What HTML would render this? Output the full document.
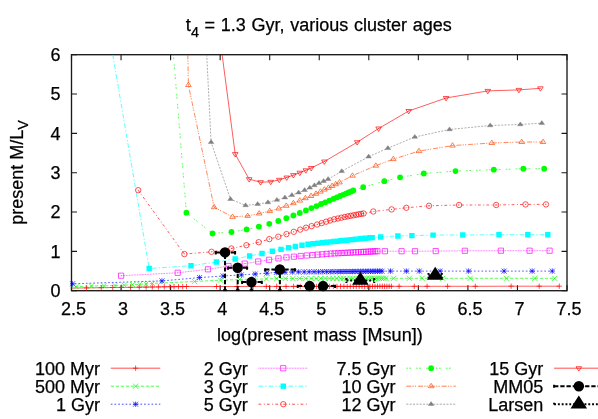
<!DOCTYPE html>
<html><head><meta charset="utf-8"><title>plot</title>
<style>html,body{margin:0;padding:0;background:#fff;}body{width:598px;height:419px;overflow:hidden;font-family:"Liberation Sans",sans-serif;}</style>
</head><body>
<svg width="598" height="419" viewBox="0 0 598 419" style="display:block;will-change:transform;font-family:'Liberation Sans',sans-serif">
<rect width="598" height="419" fill="#fff"/>
<clipPath id="cp"><rect x="71.5" y="54.7" width="495.5" height="236.0"/></clipPath>
<g stroke="#1a1a1a" stroke-width="1.35" fill="none">
<rect x="71.5" y="54.7" width="495.5" height="236.0"/>
<path stroke-width="1.1" d="M71.50 290.7v-5.5M71.50 54.7v5.5M121.05 290.7v-5.5M121.05 54.7v5.5M170.60 290.7v-5.5M170.60 54.7v5.5M220.15 290.7v-5.5M220.15 54.7v5.5M269.70 290.7v-5.5M269.70 54.7v5.5M319.25 290.7v-5.5M319.25 54.7v5.5M368.80 290.7v-5.5M368.80 54.7v5.5M418.35 290.7v-5.5M418.35 54.7v5.5M467.90 290.7v-5.5M467.90 54.7v5.5M517.45 290.7v-5.5M517.45 54.7v5.5M567.00 290.7v-5.5M567.00 54.7v5.5M71.5 290.70h5.5M567.0 290.70h-5.5M71.5 251.37h5.5M567.0 251.37h-5.5M71.5 212.03h5.5M567.0 212.03h-5.5M71.5 172.70h5.5M567.0 172.70h-5.5M71.5 133.37h5.5M567.0 133.37h-5.5M71.5 94.03h5.5M567.0 94.03h-5.5M71.5 54.70h5.5M567.0 54.70h-5.5"/>
</g>
<g font-size="18" fill="#000" stroke="#000" stroke-width="0.25">
<text x="73.5" y="315.3" text-anchor="middle">2.5</text>
<text x="123.0" y="315.3" text-anchor="middle">3</text>
<text x="172.6" y="315.3" text-anchor="middle">3.5</text>
<text x="222.2" y="315.3" text-anchor="middle">4</text>
<text x="271.7" y="315.3" text-anchor="middle">4.5</text>
<text x="321.2" y="315.3" text-anchor="middle">5</text>
<text x="370.8" y="315.3" text-anchor="middle">5.5</text>
<text x="420.4" y="315.3" text-anchor="middle">6</text>
<text x="469.9" y="315.3" text-anchor="middle">6.5</text>
<text x="519.5" y="315.3" text-anchor="middle">7</text>
<text x="569.0" y="315.3" text-anchor="middle">7.5</text>
<text x="60.5" y="297.0" text-anchor="end">0</text>
<text x="60.5" y="257.7" text-anchor="end">1</text>
<text x="60.5" y="218.3" text-anchor="end">2</text>
<text x="60.5" y="179.0" text-anchor="end">3</text>
<text x="60.5" y="139.7" text-anchor="end">4</text>
<text x="60.5" y="100.3" text-anchor="end">5</text>
<text x="60.5" y="61.0" text-anchor="end">6</text>
<text x="318.8" y="31.3" text-anchor="middle" word-spacing="0.7">t<tspan font-size="14.4" dy="5.2">4</tspan><tspan dy="-5.2"> = 1.3 Gyr, various cluster ages</tspan></text>
<text x="319.9" y="340.8" text-anchor="middle" word-spacing="0.7" letter-spacing="0.06">log(present mass [Msun])</text>
<text transform="translate(22.7,172.5) rotate(-90)" text-anchor="middle">present M/L<tspan font-size="14.4" dy="5.2">V</tspan></text>
</g>
<g clip-path="url(#cp)">
<path d="M60.0 288.2 L86.5 287.9 L101.3 287.7 L112.7 287.5 L121.4 287.4 L130.5 287.3 L139.3 287.2 L146.1 287.1 L152.3 287.0 L158.4 286.9 L164.3 286.8 L169.9 286.7 L174.0 286.7 L178.5 286.6 L182.7 286.6 L186.5 286.5 L216.5 286.5 L237.1 286.5 L253.2 286.4 L266.3 286.4 L276.7 286.4 L286.0 286.4 L293.6 286.4 L300.2 286.4 L306.1 286.4 L311.4 286.4 L316.4 286.4 L321.0 286.4 L325.4 286.4 L329.4 286.4 L333.3 286.4 L337.0 286.4 L340.5 286.4 L343.9 286.4 L347.2 286.4 L350.3 286.4 L353.4 286.4 L356.3 286.4 L359.2 286.4 L362.0 286.4 L364.7 286.4 L367.4 286.4 L370.0 286.4 L372.5 286.4 L375.0 286.3 L377.5 286.3 L379.9 286.3 L382.3 286.3 L384.6 286.3 L386.9 286.3 L389.2 286.3 L391.4 286.3 L399.1 286.3 L414.3 286.3 L427.1 286.3 L447.6 286.3 L475.3 286.3 L511.1 286.2 L539.2 286.2 L559.3 286.2" fill="none" stroke="#ff0000" stroke-width="1" stroke-opacity="0.64"/>
<path d="M60.0 286.4 L76.0 286.7 L91.4 286.0 L104.0 285.8 L115.0 285.5 L124.2 285.2 L132.6 284.7 L139.7 284.3 L146.0 283.8 L152.5 283.4 L194.6 281.5 L220.5 280.2 L239.6 279.5 L254.0 279.2 L266.3 278.9 L276.7 278.6 L285.3 278.5 L293.0 278.5 L299.7 278.5 L305.7 278.5 L311.1 278.5 L316.1 278.5 L320.8 278.4 L325.1 278.4 L329.2 278.4 L333.1 278.4 L336.8 278.4 L340.3 278.4 L343.6 278.4 L346.9 278.4 L350.0 278.4 L353.0 278.4 L355.9 278.4 L358.8 278.4 L361.5 278.4 L364.2 278.3 L366.8 278.3 L369.4 278.3 L371.9 278.3 L374.4 278.3 L376.8 278.3 L379.1 278.3 L381.5 278.3 L383.7 278.3 L386.0 278.3 L393.7 278.3 L409.4 278.3 L422.1 278.3 L442.7 278.3 L470.2 278.3 L506.5 278.3 L534.8 278.3 L554.7 278.3" fill="none" stroke="#00ff00" stroke-width="1" stroke-opacity="0.64" stroke-dasharray="3.3 1.7"/>
<path d="M60.0 283.9 L72.6 283.8 L162.0 280.9 L199.5 277.6 L223.1 276.0 L241.3 274.9 L255.2 274.0 L266.8 273.2 L276.3 272.5 L285.0 272.2 L292.4 272.0 L298.6 271.9 L304.2 271.9 L309.3 271.8 L314.1 271.8 L318.5 271.8 L322.7 271.7 L326.6 271.7 L330.3 271.7 L333.9 271.6 L337.3 271.6 L340.5 271.6 L343.7 271.5 L346.7 271.5 L349.7 271.5 L352.5 271.5 L355.3 271.4 L358.0 271.4 L360.6 271.4 L363.2 271.4 L365.7 271.3 L368.1 271.3 L370.6 271.3 L372.9 271.3 L375.2 271.3 L377.5 271.2 L379.8 271.2 L382.0 271.2 L390.5 271.1 L406.4 271.1 L419.3 271.1 L440.1 271.1 L468.6 271.1 L504.1 271.1 L532.2 271.1 L552.3 271.1" fill="none" stroke="#0000ff" stroke-width="1" stroke-opacity="0.64" stroke-dasharray="1.7 2"/>
<path d="M121.1 275.7 L177.7 272.8 L208.0 269.3 L228.5 266.0 L244.7 263.6 L258.2 261.5 L269.0 259.8 L278.5 258.4 L286.5 257.4 L293.9 256.7 L300.7 256.0 L306.8 255.5 L312.5 255.1 L317.6 254.7 L322.3 254.3 L326.6 253.9 L330.7 253.6 L334.6 253.4 L338.2 253.2 L341.4 253.0 L344.5 252.9 L347.5 252.7 L350.4 252.6 L353.2 252.4 L355.9 252.3 L358.5 252.2 L361.1 252.0 L363.5 251.9 L366.0 251.8 L368.4 251.7 L370.7 251.5 L373.0 251.4 L375.2 251.3 L377.4 251.2 L384.9 251.2 L401.6 251.2 L415.0 251.2 L435.7 251.1 L464.8 250.8 L500.9 250.7 L529.6 250.7 L549.6 250.7" fill="none" stroke="#ff00ff" stroke-width="1" stroke-opacity="0.64" stroke-dasharray="0.8 0.8"/>
<path d="M112.7 54.5 L149.2 268.5 L191.0 265.7 L216.4 262.0 L235.2 259.0 L249.6 256.0 L262.0 253.5 L272.3 251.3 L281.0 249.4 L288.6 247.8 L295.4 246.5 L302.0 245.3 L308.0 244.3 L313.2 243.7 L318.0 243.2 L322.4 242.8 L326.5 242.3 L330.4 241.9 L334.0 241.5 L337.5 241.2 L340.8 240.8 L343.9 240.5 L346.9 240.2 L349.8 239.9 L352.6 239.6 L355.3 239.3 L357.9 239.1 L360.5 238.8 L362.9 238.5 L365.3 238.3 L367.7 238.1 L370.0 237.8 L372.2 237.6 L380.7 237.0 L397.9 236.0 L411.9 235.6 L433.1 235.1 L462.8 235.0 L499.0 234.7 L527.8 234.7 L547.8 234.7" fill="none" stroke="#00ffff" stroke-width="1" stroke-opacity="0.64" stroke-dasharray="4.7 2 1.3 2"/>
<path d="M138.2 190.2 L184.4 254.1 L211.5 251.8 L231.4 248.5 L246.4 245.2 L258.7 242.2 L269.3 239.1 L278.3 236.7 L286.5 234.1 L293.8 231.8 L300.2 229.6 L306.0 227.7 L311.6 226.1 L317.1 224.5 L321.7 223.1 L326.1 221.7 L330.1 220.5 L334.1 219.3 L337.9 218.5 L341.4 217.7 L344.7 217.0 L347.8 216.4 L350.7 215.8 L353.5 215.3 L356.2 214.8 L358.7 214.3 L361.2 213.9 L363.5 213.5 L373.3 211.5 L391.6 209.4 L406.3 207.8 L429.0 205.8 L459.1 205.0 L496.2 205.0 L525.5 204.4 L546.0 204.4" fill="none" stroke="#ff0000" stroke-width="1" stroke-opacity="0.64" stroke-dasharray="2.8 2.5 1 2.1"/>
<path d="M173.4 54.5 L186.4 212.7 L212.5 233.5 L231.5 232.0 L246.6 229.4 L258.8 226.6 L269.3 223.8 L278.3 221.0 L286.3 218.2 L293.4 215.5 L299.8 213.0 L305.9 210.4 L311.4 208.1 L316.5 206.1 L321.1 204.0 L325.2 202.3 L329.3 200.6 L333.3 198.9 L336.9 197.4 L340.1 196.0 L343.1 194.8 L345.9 193.6 L348.6 192.5 L351.1 191.4 L353.3 190.5 L363.2 187.2 L384.3 181.2 L400.1 177.3 L423.8 173.5 L455.5 171.1 L493.8 169.7 L523.3 168.7 L544.2 168.7" fill="none" stroke="#00ff00" stroke-width="1" stroke-opacity="0.64" stroke-dasharray="1.6 1.3 1.9 5.1"/>
<path d="M187.8 54.5 L188.4 85.0 L214.1 207.2 L232.5 216.9 L247.6 215.9 L259.2 213.5 L269.7 211.1 L278.7 208.5 L286.3 205.8 L293.4 203.2 L299.8 200.6 L305.4 198.2 L311.0 196.0 L316.0 193.8 L320.4 191.6 L324.4 189.6 L328.5 187.8 L332.1 186.0 L335.7 184.2 L339.5 182.4 L352.5 175.7 L375.8 165.7 L393.3 159.1 L419.0 151.1 L452.5 145.6 L491.8 143.0 L521.7 142.0 L543.0 142.0" fill="none" stroke="#ff4500" stroke-width="1" stroke-opacity="0.64" stroke-dasharray="5 1.2 1.2 1.2 1.2 2"/>
<path d="M206.7 54.5 L211.1 142.2 L230.5 199.2 L245.6 205.4 L257.6 204.2 L267.9 202.4 L276.9 200.0 L284.9 197.6 L291.9 195.2 L298.6 192.6 L304.6 190.2 L309.8 187.8 L314.4 185.4 L319.0 183.2 L323.6 181.2 L328.1 179.2 L341.7 171.3 L368.6 156.7 L387.9 148.2 L414.8 137.0 L449.5 129.5 L490.2 125.5 L520.3 124.5 L541.8 123.2" fill="none" stroke="#808080" stroke-width="1" stroke-opacity="0.64" stroke-dasharray="2 1.35"/>
<path d="M222.1 54.5 L235.2 154.1 L249.2 179.2 L260.6 182.2 L270.7 181.8 L279.3 179.8 L286.7 177.5 L293.4 175.1 L299.8 172.7 L305.8 170.3 L311.2 168.0 L324.4 161.5 L357.2 142.2 L378.6 128.5 L408.7 111.0 L446.1 98.0 L487.8 90.9 L518.9 89.9 L540.4 88.3" fill="none" stroke="#ff0000" stroke-width="1" stroke-opacity="0.64"/>
</g>
<path fill="none" stroke="#ff0000" stroke-width="1" stroke-opacity="0.68" d="M83.8 287.9h5.4M86.5 285.2v5.4M98.6 287.7h5.4M101.3 285v5.4M110 287.5h5.4M112.7 284.8v5.4M118.7 287.4h5.4M121.4 284.7v5.4M127.8 287.3h5.4M130.5 284.6v5.4M136.6 287.2h5.4M139.3 284.5v5.4M143.4 287.1h5.4M146.1 284.4v5.4M149.6 287h5.4M152.3 284.3v5.4M155.7 286.9h5.4M158.4 284.2v5.4M161.6 286.8h5.4M164.3 284.1v5.4M167.2 286.7h5.4M169.9 284v5.4M171.3 286.7h5.4M174 284v5.4M175.8 286.6h5.4M178.5 283.9v5.4M180 286.6h5.4M182.7 283.9v5.4M183.8 286.5h5.4M186.5 283.8v5.4M213.8 286.5h5.4M216.5 283.8v5.4M234.4 286.5h5.4M237.1 283.8v5.4M250.5 286.4h5.4M253.2 283.7v5.4M263.6 286.4h5.4M266.3 283.7v5.4M274 286.4h5.4M276.7 283.7v5.4M283.3 286.4h5.4M286 283.7v5.4M290.9 286.4h5.4M293.6 283.7v5.4M297.5 286.4h5.4M300.2 283.7v5.4M303.4 286.4h5.4M306.1 283.7v5.4M308.7 286.4h5.4M311.4 283.7v5.4M313.7 286.4h5.4M316.4 283.7v5.4M318.3 286.4h5.4M321 283.7v5.4M322.7 286.4h5.4M325.4 283.7v5.4M326.7 286.4h5.4M329.4 283.7v5.4M330.6 286.4h5.4M333.3 283.7v5.4M334.3 286.4h5.4M337 283.7v5.4M337.8 286.4h5.4M340.5 283.7v5.4M341.2 286.4h5.4M343.9 283.7v5.4M344.5 286.4h5.4M347.2 283.7v5.4M347.6 286.4h5.4M350.3 283.7v5.4M350.7 286.4h5.4M353.4 283.7v5.4M353.6 286.4h5.4M356.3 283.7v5.4M356.5 286.4h5.4M359.2 283.7v5.4M359.3 286.4h5.4M362 283.7v5.4M362 286.4h5.4M364.7 283.7v5.4M364.7 286.4h5.4M367.4 283.7v5.4M367.3 286.4h5.4M370 283.7v5.4M369.8 286.4h5.4M372.5 283.7v5.4M372.3 286.3h5.4M375 283.6v5.4M374.8 286.3h5.4M377.5 283.6v5.4M377.2 286.3h5.4M379.9 283.6v5.4M379.6 286.3h5.4M382.3 283.6v5.4M381.9 286.3h5.4M384.6 283.6v5.4M384.2 286.3h5.4M386.9 283.6v5.4M386.5 286.3h5.4M389.2 283.6v5.4M388.7 286.3h5.4M391.4 283.6v5.4M396.4 286.3h5.4M399.1 283.6v5.4M411.6 286.3h5.4M414.3 283.6v5.4M424.4 286.3h5.4M427.1 283.6v5.4M444.9 286.3h5.4M447.6 283.6v5.4M472.6 286.3h5.4M475.3 283.6v5.4M508.4 286.2h5.4M511.1 283.5v5.4M536.5 286.2h5.4M539.2 283.5v5.4M556.6 286.2h5.4M559.3 283.5v5.4"/>
<path fill="none" stroke="#00ff00" stroke-width="1" stroke-opacity="0.68" d="M73.4 284.1l5.2 5.2M73.4 289.3l5.2 -5.2M88.8 283.4l5.2 5.2M88.8 288.6l5.2 -5.2M101.4 283.2l5.2 5.2M101.4 288.4l5.2 -5.2M112.4 282.9l5.2 5.2M112.4 288.1l5.2 -5.2M121.6 282.6l5.2 5.2M121.6 287.8l5.2 -5.2M130 282.1l5.2 5.2M130 287.3l5.2 -5.2M137.1 281.7l5.2 5.2M137.1 286.9l5.2 -5.2M143.4 281.2l5.2 5.2M143.4 286.4l5.2 -5.2M149.9 280.8l5.2 5.2M149.9 286l5.2 -5.2M192 278.9l5.2 5.2M192 284.1l5.2 -5.2M217.9 277.6l5.2 5.2M217.9 282.8l5.2 -5.2M237 276.9l5.2 5.2M237 282.1l5.2 -5.2M251.4 276.6l5.2 5.2M251.4 281.8l5.2 -5.2M263.7 276.3l5.2 5.2M263.7 281.5l5.2 -5.2M274.1 276l5.2 5.2M274.1 281.2l5.2 -5.2M282.7 275.9l5.2 5.2M282.7 281.1l5.2 -5.2M290.4 275.9l5.2 5.2M290.4 281.1l5.2 -5.2M297.1 275.9l5.2 5.2M297.1 281.1l5.2 -5.2M303.1 275.9l5.2 5.2M303.1 281.1l5.2 -5.2M308.5 275.9l5.2 5.2M308.5 281.1l5.2 -5.2M313.5 275.9l5.2 5.2M313.5 281.1l5.2 -5.2M318.2 275.8l5.2 5.2M318.2 281l5.2 -5.2M322.5 275.8l5.2 5.2M322.5 281l5.2 -5.2M326.6 275.8l5.2 5.2M326.6 281l5.2 -5.2M330.5 275.8l5.2 5.2M330.5 281l5.2 -5.2M334.2 275.8l5.2 5.2M334.2 281l5.2 -5.2M337.7 275.8l5.2 5.2M337.7 281l5.2 -5.2M341 275.8l5.2 5.2M341 281l5.2 -5.2M344.3 275.8l5.2 5.2M344.3 281l5.2 -5.2M347.4 275.8l5.2 5.2M347.4 281l5.2 -5.2M350.4 275.8l5.2 5.2M350.4 281l5.2 -5.2M353.3 275.8l5.2 5.2M353.3 281l5.2 -5.2M356.2 275.8l5.2 5.2M356.2 281l5.2 -5.2M358.9 275.8l5.2 5.2M358.9 281l5.2 -5.2M361.6 275.7l5.2 5.2M361.6 280.9l5.2 -5.2M364.2 275.7l5.2 5.2M364.2 280.9l5.2 -5.2M366.8 275.7l5.2 5.2M366.8 280.9l5.2 -5.2M369.3 275.7l5.2 5.2M369.3 280.9l5.2 -5.2M371.8 275.7l5.2 5.2M371.8 280.9l5.2 -5.2M374.2 275.7l5.2 5.2M374.2 280.9l5.2 -5.2M376.5 275.7l5.2 5.2M376.5 280.9l5.2 -5.2M378.9 275.7l5.2 5.2M378.9 280.9l5.2 -5.2M381.1 275.7l5.2 5.2M381.1 280.9l5.2 -5.2M383.4 275.7l5.2 5.2M383.4 280.9l5.2 -5.2M391.1 275.7l5.2 5.2M391.1 280.9l5.2 -5.2M406.8 275.7l5.2 5.2M406.8 280.9l5.2 -5.2M419.5 275.7l5.2 5.2M419.5 280.9l5.2 -5.2M440.1 275.7l5.2 5.2M440.1 280.9l5.2 -5.2M467.6 275.7l5.2 5.2M467.6 280.9l5.2 -5.2M503.9 275.7l5.2 5.2M503.9 280.9l5.2 -5.2M532.2 275.7l5.2 5.2M532.2 280.9l5.2 -5.2M552.1 275.7l5.2 5.2M552.1 280.9l5.2 -5.2"/>
<path fill="none" stroke="#0000ff" stroke-width="1" stroke-opacity="0.68" d="M69.9 283.8h5.4M72.6 281.1v5.4M70.1 281.3l5 5M70.1 286.3l5 -5M159.3 280.9h5.4M162 278.2v5.4M159.5 278.4l5 5M159.5 283.4l5 -5M196.8 277.6h5.4M199.5 274.9v5.4M197 275.1l5 5M197 280.1l5 -5M220.4 276h5.4M223.1 273.3v5.4M220.6 273.5l5 5M220.6 278.5l5 -5M238.6 274.9h5.4M241.3 272.2v5.4M238.8 272.4l5 5M238.8 277.4l5 -5M252.5 274h5.4M255.2 271.3v5.4M252.7 271.5l5 5M252.7 276.5l5 -5M264.1 273.2h5.4M266.8 270.5v5.4M264.3 270.7l5 5M264.3 275.7l5 -5M273.6 272.5h5.4M276.3 269.8v5.4M273.8 270l5 5M273.8 275l5 -5M282.3 272.2h5.4M285 269.5v5.4M282.5 269.7l5 5M282.5 274.7l5 -5M289.7 272h5.4M292.4 269.3v5.4M289.9 269.5l5 5M289.9 274.5l5 -5M295.9 271.9h5.4M298.6 269.2v5.4M296.1 269.4l5 5M296.1 274.4l5 -5M301.5 271.9h5.4M304.2 269.2v5.4M301.7 269.4l5 5M301.7 274.4l5 -5M306.6 271.8h5.4M309.3 269.1v5.4M306.8 269.3l5 5M306.8 274.3l5 -5M311.4 271.8h5.4M314.1 269.1v5.4M311.6 269.3l5 5M311.6 274.3l5 -5M315.8 271.8h5.4M318.5 269.1v5.4M316 269.3l5 5M316 274.3l5 -5M320 271.7h5.4M322.7 269v5.4M320.2 269.2l5 5M320.2 274.2l5 -5M323.9 271.7h5.4M326.6 269v5.4M324.1 269.2l5 5M324.1 274.2l5 -5M327.6 271.7h5.4M330.3 269v5.4M327.8 269.2l5 5M327.8 274.2l5 -5M331.2 271.6h5.4M333.9 268.9v5.4M331.4 269.1l5 5M331.4 274.1l5 -5M334.6 271.6h5.4M337.3 268.9v5.4M334.8 269.1l5 5M334.8 274.1l5 -5M337.8 271.6h5.4M340.5 268.9v5.4M338 269.1l5 5M338 274.1l5 -5M341 271.5h5.4M343.7 268.8v5.4M341.2 269l5 5M341.2 274l5 -5M344 271.5h5.4M346.7 268.8v5.4M344.2 269l5 5M344.2 274l5 -5M347 271.5h5.4M349.7 268.8v5.4M347.2 269l5 5M347.2 274l5 -5M349.8 271.5h5.4M352.5 268.8v5.4M350 269l5 5M350 274l5 -5M352.6 271.4h5.4M355.3 268.7v5.4M352.8 268.9l5 5M352.8 273.9l5 -5M355.3 271.4h5.4M358 268.7v5.4M355.5 268.9l5 5M355.5 273.9l5 -5M357.9 271.4h5.4M360.6 268.7v5.4M358.1 268.9l5 5M358.1 273.9l5 -5M360.5 271.4h5.4M363.2 268.7v5.4M360.7 268.9l5 5M360.7 273.9l5 -5M363 271.3h5.4M365.7 268.6v5.4M363.2 268.8l5 5M363.2 273.8l5 -5M365.4 271.3h5.4M368.1 268.6v5.4M365.6 268.8l5 5M365.6 273.8l5 -5M367.9 271.3h5.4M370.6 268.6v5.4M368.1 268.8l5 5M368.1 273.8l5 -5M370.2 271.3h5.4M372.9 268.6v5.4M370.4 268.8l5 5M370.4 273.8l5 -5M372.5 271.3h5.4M375.2 268.6v5.4M372.7 268.8l5 5M372.7 273.8l5 -5M374.8 271.2h5.4M377.5 268.5v5.4M375 268.7l5 5M375 273.7l5 -5M377.1 271.2h5.4M379.8 268.5v5.4M377.3 268.7l5 5M377.3 273.7l5 -5M379.3 271.2h5.4M382 268.5v5.4M379.5 268.7l5 5M379.5 273.7l5 -5M387.8 271.1h5.4M390.5 268.4v5.4M388 268.6l5 5M388 273.6l5 -5M403.7 271.1h5.4M406.4 268.4v5.4M403.9 268.6l5 5M403.9 273.6l5 -5M416.6 271.1h5.4M419.3 268.4v5.4M416.8 268.6l5 5M416.8 273.6l5 -5M437.4 271.1h5.4M440.1 268.4v5.4M437.6 268.6l5 5M437.6 273.6l5 -5M465.9 271.1h5.4M468.6 268.4v5.4M466.1 268.6l5 5M466.1 273.6l5 -5M501.4 271.1h5.4M504.1 268.4v5.4M501.6 268.6l5 5M501.6 273.6l5 -5M529.5 271.1h5.4M532.2 268.4v5.4M529.7 268.6l5 5M529.7 273.6l5 -5M549.6 271.1h5.4M552.3 268.4v5.4M549.8 268.6l5 5M549.8 273.6l5 -5"/>
<path fill="none" stroke="#ff00ff" stroke-width="1" stroke-opacity="0.68" d="M118.5 273.1h5.2v5.2h-5.2zM175.1 270.2h5.2v5.2h-5.2zM205.4 266.7h5.2v5.2h-5.2zM225.9 263.4h5.2v5.2h-5.2zM242.1 261h5.2v5.2h-5.2zM255.6 258.9h5.2v5.2h-5.2zM266.4 257.2h5.2v5.2h-5.2zM275.9 255.8h5.2v5.2h-5.2zM283.9 254.8h5.2v5.2h-5.2zM291.3 254.1h5.2v5.2h-5.2zM298.1 253.4h5.2v5.2h-5.2zM304.2 252.9h5.2v5.2h-5.2zM309.9 252.5h5.2v5.2h-5.2zM315 252.1h5.2v5.2h-5.2zM319.7 251.7h5.2v5.2h-5.2zM324 251.3h5.2v5.2h-5.2zM328.1 251h5.2v5.2h-5.2zM332 250.8h5.2v5.2h-5.2zM335.6 250.6h5.2v5.2h-5.2zM338.8 250.4h5.2v5.2h-5.2zM341.9 250.3h5.2v5.2h-5.2zM344.9 250.1h5.2v5.2h-5.2zM347.8 250h5.2v5.2h-5.2zM350.6 249.8h5.2v5.2h-5.2zM353.3 249.7h5.2v5.2h-5.2zM355.9 249.6h5.2v5.2h-5.2zM358.5 249.4h5.2v5.2h-5.2zM360.9 249.3h5.2v5.2h-5.2zM363.4 249.2h5.2v5.2h-5.2zM365.8 249.1h5.2v5.2h-5.2zM368.1 248.9h5.2v5.2h-5.2zM370.4 248.8h5.2v5.2h-5.2zM372.6 248.7h5.2v5.2h-5.2zM374.8 248.6h5.2v5.2h-5.2zM382.3 248.6h5.2v5.2h-5.2zM399 248.6h5.2v5.2h-5.2zM412.4 248.6h5.2v5.2h-5.2zM433.1 248.5h5.2v5.2h-5.2zM462.2 248.2h5.2v5.2h-5.2zM498.3 248.1h5.2v5.2h-5.2zM527 248.1h5.2v5.2h-5.2zM547 248.1h5.2v5.2h-5.2z"/><path fill="#ff00ff" fill-opacity="0.5" stroke="none" d="M120.6 275.2h1v1h-1zM177.2 272.3h1v1h-1zM207.5 268.8h1v1h-1zM228 265.5h1v1h-1zM244.2 263.1h1v1h-1zM257.7 261h1v1h-1zM268.5 259.3h1v1h-1zM278 257.9h1v1h-1zM286 256.9h1v1h-1zM293.4 256.2h1v1h-1zM300.2 255.5h1v1h-1zM306.3 255h1v1h-1zM312 254.6h1v1h-1zM317.1 254.2h1v1h-1zM321.8 253.8h1v1h-1zM326.1 253.4h1v1h-1zM330.2 253.1h1v1h-1zM334.1 252.9h1v1h-1zM337.7 252.7h1v1h-1zM340.9 252.5h1v1h-1zM344 252.4h1v1h-1zM347 252.2h1v1h-1zM349.9 252.1h1v1h-1zM352.7 251.9h1v1h-1zM355.4 251.8h1v1h-1zM358 251.7h1v1h-1zM360.6 251.5h1v1h-1zM363 251.4h1v1h-1zM365.5 251.3h1v1h-1zM367.9 251.2h1v1h-1zM370.2 251h1v1h-1zM372.5 250.9h1v1h-1zM374.7 250.8h1v1h-1zM376.9 250.7h1v1h-1zM384.4 250.7h1v1h-1zM401.1 250.7h1v1h-1zM414.5 250.7h1v1h-1zM435.2 250.6h1v1h-1zM464.3 250.3h1v1h-1zM500.4 250.2h1v1h-1zM529.1 250.2h1v1h-1zM549.1 250.2h1v1h-1z"/>
<path fill="#00ffff" stroke="none" d="M146.5 265.8h5.4v5.4h-5.4zM188.3 263h5.4v5.4h-5.4zM213.7 259.3h5.4v5.4h-5.4zM232.5 256.3h5.4v5.4h-5.4zM246.9 253.3h5.4v5.4h-5.4zM259.3 250.8h5.4v5.4h-5.4zM269.6 248.6h5.4v5.4h-5.4zM278.3 246.7h5.4v5.4h-5.4zM285.9 245.1h5.4v5.4h-5.4zM292.7 243.8h5.4v5.4h-5.4zM299.3 242.6h5.4v5.4h-5.4zM305.3 241.6h5.4v5.4h-5.4zM310.5 241h5.4v5.4h-5.4zM315.3 240.5h5.4v5.4h-5.4zM319.7 240.1h5.4v5.4h-5.4zM323.8 239.6h5.4v5.4h-5.4zM327.7 239.2h5.4v5.4h-5.4zM331.3 238.8h5.4v5.4h-5.4zM334.8 238.5h5.4v5.4h-5.4zM338.1 238.1h5.4v5.4h-5.4zM341.2 237.8h5.4v5.4h-5.4zM344.2 237.5h5.4v5.4h-5.4zM347.1 237.2h5.4v5.4h-5.4zM349.9 236.9h5.4v5.4h-5.4zM352.6 236.6h5.4v5.4h-5.4zM355.2 236.4h5.4v5.4h-5.4zM357.8 236.1h5.4v5.4h-5.4zM360.2 235.8h5.4v5.4h-5.4zM362.6 235.6h5.4v5.4h-5.4zM365 235.4h5.4v5.4h-5.4zM367.3 235.1h5.4v5.4h-5.4zM369.5 234.9h5.4v5.4h-5.4zM378 234.3h5.4v5.4h-5.4zM395.2 233.3h5.4v5.4h-5.4zM409.2 232.9h5.4v5.4h-5.4zM430.4 232.4h5.4v5.4h-5.4zM460.1 232.3h5.4v5.4h-5.4zM496.3 232h5.4v5.4h-5.4zM525.1 232h5.4v5.4h-5.4zM545.1 232h5.4v5.4h-5.4z"/>
<path fill="none" stroke="#ff0000" stroke-width="1" stroke-opacity="0.68" d="M135.5 190.2a2.7 2.7 0 1 0 5.4 0a2.7 2.7 0 1 0 -5.4 0zM181.7 254.1a2.7 2.7 0 1 0 5.4 0a2.7 2.7 0 1 0 -5.4 0zM208.8 251.8a2.7 2.7 0 1 0 5.4 0a2.7 2.7 0 1 0 -5.4 0zM228.7 248.5a2.7 2.7 0 1 0 5.4 0a2.7 2.7 0 1 0 -5.4 0zM243.7 245.2a2.7 2.7 0 1 0 5.4 0a2.7 2.7 0 1 0 -5.4 0zM256 242.2a2.7 2.7 0 1 0 5.4 0a2.7 2.7 0 1 0 -5.4 0zM266.6 239.1a2.7 2.7 0 1 0 5.4 0a2.7 2.7 0 1 0 -5.4 0zM275.6 236.7a2.7 2.7 0 1 0 5.4 0a2.7 2.7 0 1 0 -5.4 0zM283.8 234.1a2.7 2.7 0 1 0 5.4 0a2.7 2.7 0 1 0 -5.4 0zM291.1 231.8a2.7 2.7 0 1 0 5.4 0a2.7 2.7 0 1 0 -5.4 0zM297.5 229.6a2.7 2.7 0 1 0 5.4 0a2.7 2.7 0 1 0 -5.4 0zM303.3 227.7a2.7 2.7 0 1 0 5.4 0a2.7 2.7 0 1 0 -5.4 0zM308.9 226.1a2.7 2.7 0 1 0 5.4 0a2.7 2.7 0 1 0 -5.4 0zM314.4 224.5a2.7 2.7 0 1 0 5.4 0a2.7 2.7 0 1 0 -5.4 0zM319 223.1a2.7 2.7 0 1 0 5.4 0a2.7 2.7 0 1 0 -5.4 0zM323.4 221.7a2.7 2.7 0 1 0 5.4 0a2.7 2.7 0 1 0 -5.4 0zM327.4 220.5a2.7 2.7 0 1 0 5.4 0a2.7 2.7 0 1 0 -5.4 0zM331.4 219.3a2.7 2.7 0 1 0 5.4 0a2.7 2.7 0 1 0 -5.4 0zM335.2 218.5a2.7 2.7 0 1 0 5.4 0a2.7 2.7 0 1 0 -5.4 0zM338.7 217.7a2.7 2.7 0 1 0 5.4 0a2.7 2.7 0 1 0 -5.4 0zM342 217a2.7 2.7 0 1 0 5.4 0a2.7 2.7 0 1 0 -5.4 0zM345.1 216.4a2.7 2.7 0 1 0 5.4 0a2.7 2.7 0 1 0 -5.4 0zM348 215.8a2.7 2.7 0 1 0 5.4 0a2.7 2.7 0 1 0 -5.4 0zM350.8 215.3a2.7 2.7 0 1 0 5.4 0a2.7 2.7 0 1 0 -5.4 0zM353.5 214.8a2.7 2.7 0 1 0 5.4 0a2.7 2.7 0 1 0 -5.4 0zM356 214.3a2.7 2.7 0 1 0 5.4 0a2.7 2.7 0 1 0 -5.4 0zM358.5 213.9a2.7 2.7 0 1 0 5.4 0a2.7 2.7 0 1 0 -5.4 0zM360.8 213.5a2.7 2.7 0 1 0 5.4 0a2.7 2.7 0 1 0 -5.4 0zM370.6 211.5a2.7 2.7 0 1 0 5.4 0a2.7 2.7 0 1 0 -5.4 0zM388.9 209.4a2.7 2.7 0 1 0 5.4 0a2.7 2.7 0 1 0 -5.4 0zM403.6 207.8a2.7 2.7 0 1 0 5.4 0a2.7 2.7 0 1 0 -5.4 0zM426.3 205.8a2.7 2.7 0 1 0 5.4 0a2.7 2.7 0 1 0 -5.4 0zM456.4 205a2.7 2.7 0 1 0 5.4 0a2.7 2.7 0 1 0 -5.4 0zM493.5 205a2.7 2.7 0 1 0 5.4 0a2.7 2.7 0 1 0 -5.4 0zM522.8 204.4a2.7 2.7 0 1 0 5.4 0a2.7 2.7 0 1 0 -5.4 0zM543.3 204.4a2.7 2.7 0 1 0 5.4 0a2.7 2.7 0 1 0 -5.4 0z"/><path fill="#ff0000" fill-opacity="0.5" stroke="none" d="M137.7 189.7h1v1h-1zM183.9 253.6h1v1h-1zM211 251.3h1v1h-1zM230.9 248h1v1h-1zM245.9 244.7h1v1h-1zM258.2 241.7h1v1h-1zM268.8 238.6h1v1h-1zM277.8 236.2h1v1h-1zM286 233.6h1v1h-1zM293.3 231.3h1v1h-1zM299.7 229.1h1v1h-1zM305.5 227.2h1v1h-1zM311.1 225.6h1v1h-1zM316.6 224h1v1h-1zM321.2 222.6h1v1h-1zM325.6 221.2h1v1h-1zM329.6 220h1v1h-1zM333.6 218.8h1v1h-1zM337.4 218h1v1h-1zM340.9 217.2h1v1h-1zM344.2 216.5h1v1h-1zM347.3 215.9h1v1h-1zM350.2 215.3h1v1h-1zM353 214.8h1v1h-1zM355.7 214.3h1v1h-1zM358.2 213.8h1v1h-1zM360.7 213.4h1v1h-1zM363 213h1v1h-1zM372.8 211h1v1h-1zM391.1 208.9h1v1h-1zM405.8 207.3h1v1h-1zM428.5 205.3h1v1h-1zM458.6 204.5h1v1h-1zM495.7 204.5h1v1h-1zM525 203.9h1v1h-1zM545.5 203.9h1v1h-1z"/>
<path fill="#00ff00" stroke="none" d="M183.5 212.7a2.9 2.9 0 1 0 5.8 0a2.9 2.9 0 1 0 -5.8 0zM209.6 233.5a2.9 2.9 0 1 0 5.8 0a2.9 2.9 0 1 0 -5.8 0zM228.6 232a2.9 2.9 0 1 0 5.8 0a2.9 2.9 0 1 0 -5.8 0zM243.7 229.4a2.9 2.9 0 1 0 5.8 0a2.9 2.9 0 1 0 -5.8 0zM255.9 226.6a2.9 2.9 0 1 0 5.8 0a2.9 2.9 0 1 0 -5.8 0zM266.4 223.8a2.9 2.9 0 1 0 5.8 0a2.9 2.9 0 1 0 -5.8 0zM275.4 221a2.9 2.9 0 1 0 5.8 0a2.9 2.9 0 1 0 -5.8 0zM283.4 218.2a2.9 2.9 0 1 0 5.8 0a2.9 2.9 0 1 0 -5.8 0zM290.5 215.5a2.9 2.9 0 1 0 5.8 0a2.9 2.9 0 1 0 -5.8 0zM296.9 213a2.9 2.9 0 1 0 5.8 0a2.9 2.9 0 1 0 -5.8 0zM303 210.4a2.9 2.9 0 1 0 5.8 0a2.9 2.9 0 1 0 -5.8 0zM308.5 208.1a2.9 2.9 0 1 0 5.8 0a2.9 2.9 0 1 0 -5.8 0zM313.6 206.1a2.9 2.9 0 1 0 5.8 0a2.9 2.9 0 1 0 -5.8 0zM318.2 204a2.9 2.9 0 1 0 5.8 0a2.9 2.9 0 1 0 -5.8 0zM322.4 202.3a2.9 2.9 0 1 0 5.8 0a2.9 2.9 0 1 0 -5.8 0zM326.4 200.6a2.9 2.9 0 1 0 5.8 0a2.9 2.9 0 1 0 -5.8 0zM330.4 198.9a2.9 2.9 0 1 0 5.8 0a2.9 2.9 0 1 0 -5.8 0zM334 197.4a2.9 2.9 0 1 0 5.8 0a2.9 2.9 0 1 0 -5.8 0zM337.2 196a2.9 2.9 0 1 0 5.8 0a2.9 2.9 0 1 0 -5.8 0zM340.2 194.8a2.9 2.9 0 1 0 5.8 0a2.9 2.9 0 1 0 -5.8 0zM343 193.6a2.9 2.9 0 1 0 5.8 0a2.9 2.9 0 1 0 -5.8 0zM345.7 192.5a2.9 2.9 0 1 0 5.8 0a2.9 2.9 0 1 0 -5.8 0zM348.2 191.4a2.9 2.9 0 1 0 5.8 0a2.9 2.9 0 1 0 -5.8 0zM350.4 190.5a2.9 2.9 0 1 0 5.8 0a2.9 2.9 0 1 0 -5.8 0zM360.3 187.2a2.9 2.9 0 1 0 5.8 0a2.9 2.9 0 1 0 -5.8 0zM381.4 181.2a2.9 2.9 0 1 0 5.8 0a2.9 2.9 0 1 0 -5.8 0zM397.2 177.3a2.9 2.9 0 1 0 5.8 0a2.9 2.9 0 1 0 -5.8 0zM420.9 173.5a2.9 2.9 0 1 0 5.8 0a2.9 2.9 0 1 0 -5.8 0zM452.6 171.1a2.9 2.9 0 1 0 5.8 0a2.9 2.9 0 1 0 -5.8 0zM490.9 169.7a2.9 2.9 0 1 0 5.8 0a2.9 2.9 0 1 0 -5.8 0zM520.4 168.7a2.9 2.9 0 1 0 5.8 0a2.9 2.9 0 1 0 -5.8 0zM541.3 168.7a2.9 2.9 0 1 0 5.8 0a2.9 2.9 0 1 0 -5.8 0z"/>
<path fill="none" stroke="#ff4500" stroke-width="1" stroke-opacity="0.68" d="M188.4 82.1l2.8 4.4h-5.6zM214.1 204.3l2.8 4.4h-5.6zM232.5 214l2.8 4.4h-5.6zM247.6 213l2.8 4.4h-5.6zM259.2 210.6l2.8 4.4h-5.6zM269.7 208.2l2.8 4.4h-5.6zM278.7 205.6l2.8 4.4h-5.6zM286.3 202.9l2.8 4.4h-5.6zM293.4 200.3l2.8 4.4h-5.6zM299.8 197.7l2.8 4.4h-5.6zM305.4 195.3l2.8 4.4h-5.6zM311 193.1l2.8 4.4h-5.6zM316 190.9l2.8 4.4h-5.6zM320.4 188.7l2.8 4.4h-5.6zM324.4 186.7l2.8 4.4h-5.6zM328.5 184.9l2.8 4.4h-5.6zM332.1 183.1l2.8 4.4h-5.6zM335.7 181.3l2.8 4.4h-5.6zM339.5 179.5l2.8 4.4h-5.6zM352.5 172.8l2.8 4.4h-5.6zM375.8 162.8l2.8 4.4h-5.6zM393.3 156.2l2.8 4.4h-5.6zM419 148.2l2.8 4.4h-5.6zM452.5 142.7l2.8 4.4h-5.6zM491.8 140.1l2.8 4.4h-5.6zM521.7 139.1l2.8 4.4h-5.6zM543 139.1l2.8 4.4h-5.6z"/><path fill="#ff4500" fill-opacity="0.5" stroke="none" d="M187.9 84.5h1v1h-1zM213.6 206.7h1v1h-1zM232 216.4h1v1h-1zM247.1 215.4h1v1h-1zM258.7 213h1v1h-1zM269.2 210.6h1v1h-1zM278.2 208h1v1h-1zM285.8 205.3h1v1h-1zM292.9 202.7h1v1h-1zM299.3 200.1h1v1h-1zM304.9 197.7h1v1h-1zM310.5 195.5h1v1h-1zM315.5 193.3h1v1h-1zM319.9 191.1h1v1h-1zM323.9 189.1h1v1h-1zM328 187.3h1v1h-1zM331.6 185.5h1v1h-1zM335.2 183.7h1v1h-1zM339 181.9h1v1h-1zM352 175.2h1v1h-1zM375.3 165.2h1v1h-1zM392.8 158.6h1v1h-1zM418.5 150.6h1v1h-1zM452 145.1h1v1h-1zM491.3 142.5h1v1h-1zM521.2 141.5h1v1h-1zM542.5 141.5h1v1h-1z"/>
<path fill="#808080" stroke="#808080" stroke-width="0.6" stroke-opacity="0.68" d="M211.1 139.6l2.8 3.9h-5.6zM230.5 196.6l2.8 3.9h-5.6zM245.6 202.8l2.8 3.9h-5.6zM257.6 201.6l2.8 3.9h-5.6zM267.9 199.8l2.8 3.9h-5.6zM276.9 197.4l2.8 3.9h-5.6zM284.9 195l2.8 3.9h-5.6zM291.9 192.6l2.8 3.9h-5.6zM298.6 190l2.8 3.9h-5.6zM304.6 187.6l2.8 3.9h-5.6zM309.8 185.2l2.8 3.9h-5.6zM314.4 182.8l2.8 3.9h-5.6zM319 180.6l2.8 3.9h-5.6zM323.6 178.6l2.8 3.9h-5.6zM328.1 176.6l2.8 3.9h-5.6zM341.7 168.7l2.8 3.9h-5.6zM368.6 154.1l2.8 3.9h-5.6zM387.9 145.6l2.8 3.9h-5.6zM414.8 134.4l2.8 3.9h-5.6zM449.5 126.9l2.8 3.9h-5.6zM490.2 122.9l2.8 3.9h-5.6zM520.3 121.9l2.8 3.9h-5.6zM541.8 120.6l2.8 3.9h-5.6z"/>
<path fill="none" stroke="#ff0000" stroke-width="1" stroke-opacity="0.68" d="M235.2 157l2.8 -4.4h-5.6zM249.2 182.1l2.8 -4.4h-5.6zM260.6 185.1l2.8 -4.4h-5.6zM270.7 184.7l2.8 -4.4h-5.6zM279.3 182.7l2.8 -4.4h-5.6zM286.7 180.4l2.8 -4.4h-5.6zM293.4 178l2.8 -4.4h-5.6zM299.8 175.6l2.8 -4.4h-5.6zM305.8 173.2l2.8 -4.4h-5.6zM311.2 170.9l2.8 -4.4h-5.6zM324.4 164.4l2.8 -4.4h-5.6zM357.2 145.1l2.8 -4.4h-5.6zM378.6 131.4l2.8 -4.4h-5.6zM408.7 113.9l2.8 -4.4h-5.6zM446.1 100.9l2.8 -4.4h-5.6zM487.8 93.8l2.8 -4.4h-5.6zM518.9 92.8l2.8 -4.4h-5.6zM540.4 91.2l2.8 -4.4h-5.6z"/><path fill="#ff0000" fill-opacity="0.5" stroke="none" d="M234.7 153.6h1v1h-1zM248.7 178.7h1v1h-1zM260.1 181.7h1v1h-1zM270.2 181.3h1v1h-1zM278.8 179.3h1v1h-1zM286.2 177h1v1h-1zM292.9 174.6h1v1h-1zM299.3 172.2h1v1h-1zM305.3 169.8h1v1h-1zM310.7 167.5h1v1h-1zM323.9 161h1v1h-1zM356.7 141.7h1v1h-1zM378.1 128h1v1h-1zM408.2 110.5h1v1h-1zM445.6 97.5h1v1h-1zM487.3 90.4h1v1h-1zM518.4 89.4h1v1h-1zM539.9 87.8h1v1h-1z"/>
<g stroke="#000" stroke-width="2" fill="none">
<path stroke-dasharray="4.3 2.0" d="M215.7 252.4H225.4M235.1 252.4H225.4"/>
<path d="M215.7 251.1v3.3M235.1 251.1v3.3"/>
<path stroke-dasharray="4.2 2.1" d="M225.0 290.5V252.4"/>
<path d="M223.2 290.1h3.6"/>
<path stroke-dasharray="4.3 2.0" d="M228.0 267.7H237.6M247.1 267.7H237.6"/>
<path d="M228.0 266.4v3.3M247.1 266.4v3.3"/>
<path stroke-dasharray="4.2 2.1" d="M237.7 290.5V267.7"/>
<path d="M235.9 290.1h3.6"/>
<path stroke-dasharray="4.3 2.0" d="M242.1 282.1H251.9M261.8 282.1H251.9"/>
<path d="M242.1 280.8v3.3M261.8 280.8v3.3"/>
<path stroke-dasharray="4.2 2.1" d="M251.5 290.5V282.1"/>
<path d="M249.7 290.1h3.6"/>
<path stroke-dasharray="4.3 2.0" d="M265.1 269.5H280.1M295.0 269.5H280.1"/>
<path d="M265.1 268.2v3.3M295.0 268.2v3.3"/>
<path stroke-dasharray="4.2 2.1" d="M279.9 290.5V269.5"/>
<path d="M278.1 290.1h3.6"/>
<path stroke-dasharray="4.3 2.0" d="M297.7 286.1H316.4M335.1 286.1H316.4"/>
<path d="M297.7 284.8v3.3M335.1 284.8v3.3"/>
</g>
<path fill="#000" stroke="none" d="M219.8 252.4a5.25 5.25 0 1 0 10.5 0a5.25 5.25 0 1 0 -10.5 0zM232.4 267.7a5.25 5.25 0 1 0 10.5 0a5.25 5.25 0 1 0 -10.5 0zM246.2 282.1a5.25 5.25 0 1 0 10.5 0a5.25 5.25 0 1 0 -10.5 0zM274.6 269.5a5.25 5.25 0 1 0 10.5 0a5.25 5.25 0 1 0 -10.5 0zM304.4 286.1a5.25 5.25 0 1 0 10.5 0a5.25 5.25 0 1 0 -10.5 0zM317.8 286.1a5.25 5.25 0 1 0 10.5 0a5.25 5.25 0 1 0 -10.5 0z"/>
<g stroke="#000" stroke-width="2" fill="none" stroke-dasharray="1.9 1.9">
<path d="M346.4 280.5H374.2M346.4 278.0v5M374.2 278.0v5"/>
<path d="M428.5 275.4H441.8M428.5 272.9v5M441.8 272.9v5"/>
</g>
<path fill="#000" stroke="#000" stroke-width="1.6" d="M360.4 273.3l6.8 10.7h-13.6zM435.2 268.2l6.8 10.7h-13.6z"/>
<g font-size="18" fill="#000" stroke="#000" stroke-width="0.25">
<text x="100.0" y="374.5" text-anchor="end">100 Myr</text>
<text x="100.0" y="392.5" text-anchor="end">500 Myr</text>
<text x="100.0" y="410.5" text-anchor="end">1 Gyr</text>
<text x="247.7" y="374.5" text-anchor="end">2 Gyr</text>
<text x="247.7" y="392.5" text-anchor="end">3 Gyr</text>
<text x="247.7" y="410.5" text-anchor="end">5 Gyr</text>
<text x="395.5" y="374.5" text-anchor="end">7.5 Gyr</text>
<text x="395.5" y="392.5" text-anchor="end">10 Gyr</text>
<text x="395.5" y="410.5" text-anchor="end">12 Gyr</text>
<text x="543.3" y="374.5" text-anchor="end">15 Gyr</text>
<text x="543.3" y="392.5" text-anchor="end">MM05</text>
<text x="543.3" y="410.5" text-anchor="end">Larsen</text>
</g>
<path d="M110.8 368.2H160.3" fill="none" stroke="#ff0000" stroke-width="1" stroke-opacity="0.7"/>
<path fill="none" stroke="#ff0000" stroke-width="1" stroke-opacity="0.68" d="M132.9 368.2h5.4M135.6 365.5v5.4"/>
<path d="M110.8 386.2H160.3" fill="none" stroke="#00ff00" stroke-width="1" stroke-opacity="0.7" stroke-dasharray="3.3 1.7"/>
<path fill="none" stroke="#00ff00" stroke-width="1" stroke-opacity="0.68" d="M133 383.6l5.2 5.2M133 388.8l5.2 -5.2"/>
<path d="M110.8 404.2H160.3" fill="none" stroke="#0000ff" stroke-width="1" stroke-opacity="0.7" stroke-dasharray="1.7 2"/>
<path fill="none" stroke="#0000ff" stroke-width="1" stroke-opacity="0.68" d="M132.9 404.2h5.4M135.6 401.5v5.4M133.1 401.7l5 5M133.1 406.7l5 -5"/>
<path d="M258.5 368.2H308.0" fill="none" stroke="#ff00ff" stroke-width="1" stroke-opacity="0.7" stroke-dasharray="0.8 0.8"/>
<path fill="none" stroke="#ff00ff" stroke-width="1" stroke-opacity="0.68" d="M280.6 365.6h5.2v5.2h-5.2z"/><path fill="#ff00ff" fill-opacity="0.5" stroke="none" d="M282.8 367.7h1v1h-1z"/>
<path d="M258.5 386.2H308.0" fill="none" stroke="#00ffff" stroke-width="1" stroke-opacity="0.7" stroke-dasharray="4.7 2 1.3 2"/>
<path fill="#00ffff" stroke="none" d="M280.6 383.5h5.4v5.4h-5.4z"/>
<path d="M258.5 404.2H308.0" fill="none" stroke="#ff0000" stroke-width="1" stroke-opacity="0.7" stroke-dasharray="2.8 2.5 1 2.1"/>
<path fill="none" stroke="#ff0000" stroke-width="1" stroke-opacity="0.68" d="M280.6 404.2a2.7 2.7 0 1 0 5.4 0a2.7 2.7 0 1 0 -5.4 0z"/><path fill="#ff0000" fill-opacity="0.5" stroke="none" d="M282.8 403.7h1v1h-1z"/>
<path d="M406.3 368.2H455.8" fill="none" stroke="#00ff00" stroke-width="1" stroke-opacity="0.7" stroke-dasharray="1.6 1.3 1.9 5.1"/>
<path fill="#00ff00" stroke="none" d="M428.2 368.2a2.9 2.9 0 1 0 5.8 0a2.9 2.9 0 1 0 -5.8 0z"/>
<path d="M406.3 386.2H455.8" fill="none" stroke="#ff4500" stroke-width="1" stroke-opacity="0.7" stroke-dasharray="5 1.2 1.2 1.2 1.2 2"/>
<path fill="none" stroke="#ff4500" stroke-width="1" stroke-opacity="0.68" d="M431.1 383.3l2.8 4.4h-5.6z"/><path fill="#ff4500" fill-opacity="0.5" stroke="none" d="M430.6 385.7h1v1h-1z"/>
<path d="M406.3 404.2H455.8" fill="none" stroke="#808080" stroke-width="1" stroke-opacity="0.7" stroke-dasharray="2 1.35"/>
<path fill="#808080" stroke="#808080" stroke-width="0.6" stroke-opacity="0.68" d="M431.1 401.6l2.8 3.9h-5.6z"/>
<path d="M554.1 368.2H603.6" fill="none" stroke="#ff0000" stroke-width="1" stroke-opacity="0.7"/>
<path fill="none" stroke="#ff0000" stroke-width="1" stroke-opacity="0.68" d="M578.8 371.1l2.8 -4.4h-5.6z"/><path fill="#ff0000" fill-opacity="0.5" stroke="none" d="M578.3 367.7h1v1h-1z"/>
<path d="M554.1 386.2H603.6M554.1 384.7v3" stroke="#000" stroke-width="2" fill="none" stroke-dasharray="4.3 1.9"/>
<path fill="#000" stroke="none" d="M573.6 386.2a5.25 5.25 0 1 0 10.5 0a5.25 5.25 0 1 0 -10.5 0z"/>
<path d="M554.1 404.2H603.6M554.1 402.7v3" stroke="#000" stroke-width="2" fill="none" stroke-dasharray="1.9 1.9"/>
<path fill="#000" stroke="#000" stroke-width="1.6" d="M578.8 397l6.8 10.7h-13.6z"/>
</svg>
</body></html>
